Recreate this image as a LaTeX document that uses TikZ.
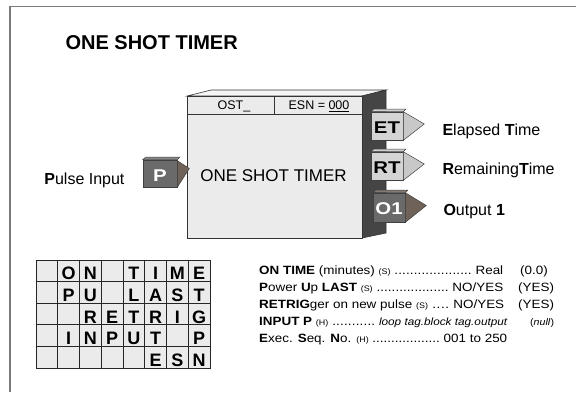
\documentclass[tikz,border=0pt]{standalone}
\usepackage{fontspec}
\setmainfont{Liberation Sans}
\newfontfamily\widesans{Liberation Sans}[FakeStretch=1.12]
\newfontfamily\pinsans{Liberation Sans}[FakeStretch=1.2]
\usetikzlibrary{positioning,calc}

\definecolor{facegray}{HTML}{EBEBEB}
\definecolor{sidegray}{HTML}{454545}
\definecolor{pindark}{HTML}{6A6A6A}
\definecolor{pinlight}{HTML}{D4D4D4}
\definecolor{tiplight}{HTML}{C8C8C8}
\definecolor{tipbrown}{HTML}{6E6259}
\definecolor{framegray}{HTML}{7A7A7A}

\newcommand{\fs}[1]{\fontsize{#1}{#1}\selectfont}
\newcommand{\dotlead}{\xleaders\hbox{.}\hfill}
\newcommand{\tagsz}[1]{{\fs{8}#1}}

\begin{document}
\begin{tikzpicture}[x=1pt, y=-1pt,
    pinlt/.style={draw=black!75, fill=pinlight, line width=0.6pt, minimum width=32pt, minimum height=28pt,
      inner sep=0pt, text height=15pt, font=\pinsans\fs{17}\bfseries},
    pindk/.style={pinlt, fill=pindark, text=white},
    pinlabel/.style={anchor=west, font=\fs{16}},
    gridchar/.style={anchor=base, font=\fs{18}\bfseries},
    gridline/.style={draw=black!85, line width=0.8pt},
    parm/.style={anchor=base west, font=\widesans\fs{12}, inner sep=0pt}
]
\useasboundingbox (0,0) rectangle (576,392);

% frame and title
\draw[framegray, line width=1.5pt] (10,392) -- (10,6.5) -- (576,6.5);
\node[anchor=west, font=\fs{20}\bfseries] (title) at (62,43) {ONE SHOT TIMER};

% block body
\draw[black!80, fill=white!96!black, line width=0.6pt] (187,96) -- (211,90) -- (386,90) -- (362,96) -- cycle;
\draw[black!80, fill=sidegray, line width=0.6pt] (362,96) -- (386,90) -- (386,233) -- (362,238) -- cycle;
\draw[black!80, fill=facegray, line width=0.8pt] (187,96) rectangle (362,238);
\draw[black!80, line width=0.6pt] (187,114) -- (362,114);
\draw[black!80, line width=0.6pt] (274,96) -- (274,114);
\node[font=\fs{12.5}] (ost) at (234,106.5) {OST\_};
\node[font=\fs{12.5}] (esn) at (319,106.5) {ESN = \underline{000}};
\node[font=\fs{17}] (blockname) at (273.5,175.5) {ONE SHOT TIMER};

% input pin
\node[pindk, minimum width=34pt, minimum height=27pt] (pin-p) at (160,173.5) {P};
\draw[black!75, fill=pindark!80!white, line width=0.5pt] (pin-p.north west) -- ++(3,-2.5) -- ++(34,0) -- (pin-p.north east) -- cycle;
\draw[black!75, fill=tipbrown, line width=0.5pt] ($(pin-p.north east)+(0,1)$) -- ($(pin-p.east)+(12,-5)$) -- (pin-p.south east) -- cycle;
\node[pinlabel, anchor=east] (pulse) at (128,180) {\textbf{P}ulse Input};

% output pins
\node[pinlt] (pin-et) at (387,126) {ET};
\node[pinlt] (pin-rt) at (387,166) {RT};
\node[pindk, minimum height=29pt] (pin-o1) at (389,207.5) {O1};
\foreach \pin/\tip in {pin-et/tiplight, pin-rt/tiplight, pin-o1/tipbrown} {
  \draw[black!75, fill=\tip!85!white, line width=0.5pt] (\pin.north west) -- ++(3,-2.5) -- ++(32,0) -- (\pin.north east) -- cycle;
  \draw[black!75, fill=\tip, line width=0.5pt] (\pin.north east) -- ($(\pin.east)+(21,-2)$) -- (\pin.south east) -- cycle;
}
\node[pinlabel] (et-text) at (439,131) {\textbf{E}lapsed \textbf{T}ime};
\node[pinlabel] (rt-text) at (439,170) {\textbf{R}emaining\textbf{T}ime};
\node[pinlabel] (o1-text) at (440,212) {\textbf{O}utput \textbf{1}};

% parameter grid
\fill[facegray] (36,260) rectangle (210,368);
\foreach \i in {1,...,7}
  \draw[gridline] ({36+\i*21.75},260) -- ({36+\i*21.75},368);
\foreach \j in {1,...,4}
  \draw[gridline] (36,{260+\j*21.6}) -- (210,{260+\j*21.6});
\draw[gridline] (36,260) rectangle (210,368);
\foreach \r/\c/\ch in {1/2/O,1/3/N,1/5/T,1/6/I,1/7/M,1/8/E,
                      2/2/P,2/3/U,2/5/L,2/6/A,2/7/S,2/8/T,
                      3/3/R,3/4/E,3/5/T,3/6/R,3/7/I,3/8/G,
                      4/2/I,4/3/N,4/4/P,4/5/U,4/6/T,4/8/P,
                      5/6/E,5/7/S,5/8/N}
  \node[gridchar] (g-\r-\c) at ({36+(\c-0.5)*21.75},{260+\r*21.6-1.8}) {\ch};

% parameter list
\node[parm] (ontime) at (259,274) {\makebox[244pt][l]{\textbf{ON TIME} (minutes) \tagsz{(S)} \dotlead\ Real}};
\node[parm] (ontime-def) at (520,274) {(0.0)};
\node[parm] (pwrup) at (259,291) {\makebox[244pt][l]{\textbf{P}ower \textbf{U}p \textbf{LAST} \tagsz{(S)} \dotlead\ NO/YES}};
\node[parm] (pwrup-def) at (518,291) {(YES)};
\node[parm] (retrig) at (259,308) {\makebox[245pt][l]{\textbf{RETRIG}ger on new pulse \tagsz{(S)} \dotlead\ NO/YES}};
\node[parm] (retrig-def) at (518,308) {(YES)};
\node[parm] (inp) at (259,325) {\makebox[248pt][l]{\textbf{INPUT P} \tagsz{(H)} \dotlead\ {\fs{10.5}\itshape loop tag.block tag.output}}};
\node[parm] (inp-def) at (530,325) {\fs{9.5}(\textit{null})};
\node[parm] (esn-no) at (259,342) {\makebox[248pt][l]{\textbf{E}xec. \textbf{S}eq. \textbf{N}o. \tagsz{(H)} \dotlead\ 001 to 250}};
\end{tikzpicture}
\end{document}
